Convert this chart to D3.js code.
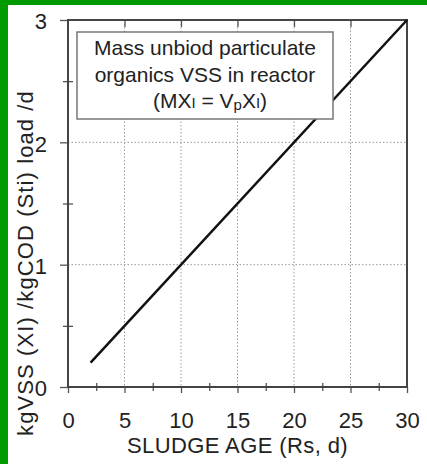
<!DOCTYPE html>
<html>
<head>
<meta charset="utf-8">
<style>
    body { margin: 0; background: #fff; }
    svg { display: block; font-family: 'Liberation Sans', Arial, sans-serif; }
    .grid line { stroke: #9a9a9a; stroke-width: 1; stroke-dasharray: 1.5,2; }
</style>
</head>
<body>
<svg width="427" height="464"></svg>
<script src="https://d3js.org/d3.v7.min.js"></script>
<script>
    // data
    let sludgeAge = [2, 30];
    let massXI = [0.2, 3.0];
    let xTicks = [0, 5, 10, 15, 20, 25, 30];
    let xMinor = [2.5, 7.5, 12.5, 17.5, 22.5, 27.5];
    let yTicks = [0, 1, 2, 3];
    let yMinor = [0.5, 1.5, 2.5];

    let svg = d3.select("svg");
    let plotLeft = 68, plotRight = 407, plotTop = 20, plotBottom = 387;

    // green frame of the slide
    svg.append("rect").attr("x", 0).attr("y", 0).attr("width", 427).attr("height", 5).style("fill", "#009a00");
    svg.append("rect").attr("x", 0).attr("y", 0).attr("width", 8).attr("height", 464).style("fill", "#009a00");

    let x = d3.scaleLinear().domain([0, 30]).range([plotLeft, plotRight]);
    let y = d3.scaleLinear().domain([0, 3]).range([plotBottom, plotTop]);

    // dotted grid
    let grid = svg.append("g").attr("class", "grid");
    grid.selectAll(".vg")
        .data(xTicks.filter(d => d > 0 && d < 30))
        .join("line")
        .attr("x1", d => x(d)).attr("x2", d => x(d))
        .attr("y1", plotTop).attr("y2", plotBottom);
    grid.selectAll(".hg")
        .data(yTicks.filter(d => d > 0 && d < 3))
        .join("line")
        .attr("x1", plotLeft).attr("x2", plotRight)
        .attr("y1", d => y(d)).attr("y2", d => y(d));

    // axes
    let xAxis = svg.append("g")
        .attr("transform", "translate(0," + plotBottom + ")")
        .call(d3.axisBottom(x).tickValues(xTicks).tickSize(6).tickFormat(d3.format("d")));
    svg.append("g")
        .attr("transform", "translate(0," + (plotBottom - 4) + ")")
        .call(d3.axisBottom(x).tickValues(xMinor).tickSize(8).tickFormat(""))
        .call(g => g.select(".domain").remove());
    svg.append("g")
        .attr("transform", "translate(0," + plotTop + ")")
        .call(d3.axisBottom(x).tickValues(xTicks.slice(1, 6)).tickSize(7).tickFormat(""))
        .call(g => g.select(".domain").remove());

    let yAxis = svg.append("g")
        .attr("transform", "translate(" + plotLeft + ",0)")
        .call(d3.axisLeft(y).tickValues(yTicks).tickSize(8).tickPadding(13).tickFormat(d3.format("d")));
    svg.append("g")
        .attr("transform", "translate(" + (plotLeft + 5) + ",0)")
        .call(d3.axisLeft(y).tickValues(yMinor).tickSize(10).tickFormat(""))
        .call(g => g.select(".domain").remove());

    svg.selectAll(".tick line").style("stroke", "#555").style("stroke-width", 1.3);
    svg.selectAll(".domain").remove();

    xAxis.selectAll("text")
        .style("font-size", "22px").style("fill", "#222")
        .attr("dy", "0.85em").attr("y", 22);
    yAxis.selectAll("text")
        .style("font-size", "22px").style("fill", "#222")
        .attr("dy", "0.4em");

    // plot frame
    svg.append("rect")
        .attr("x", plotLeft).attr("y", plotTop)
        .attr("width", plotRight - plotLeft).attr("height", plotBottom - plotTop)
        .style("fill", "none").style("stroke", "#444").style("stroke-width", 2);

    // the line
    let pts = sludgeAge.map((d, i) => [d, massXI[i]]);
    svg.append("path")
        .datum(pts)
        .attr("d", d3.line().x(d => x(d[0])).y(d => y(d[1])))
        .style("fill", "none").style("stroke", "#111").style("stroke-width", 2.5);

    // legend box
    svg.append("rect")
        .attr("x", 77).attr("y", 32).attr("width", 256).attr("height", 87)
        .style("fill", "#fff").style("stroke", "#777").style("stroke-width", 1.5);
    let lg = svg.append("text")
        .attr("text-anchor", "middle")
        .style("font-size", "21px").style("fill", "#222");
    lg.append("tspan").attr("x", 205).attr("y", 55).text("Mass unbiod particulate");
    lg.append("tspan").attr("x", 205).attr("y", 82).text("organics VSS in reactor");
    let l3 = svg.append("text")
        .attr("x", 210).attr("y", 108)
        .attr("text-anchor", "middle")
        .style("font-size", "21px").style("fill", "#222");
    l3.append("tspan").text("(MX");
    l3.append("tspan").style("font-size", "15px").text("I");
    l3.append("tspan").text(" = V");
    l3.append("tspan").style("font-size", "15px").attr("dy", 2).text("p");
    l3.append("tspan").attr("dy", -2).text("X");
    l3.append("tspan").style("font-size", "15px").text("I");
    l3.append("tspan").text(")");

    // axis titles
    svg.append("text")
        .attr("x", (plotLeft + plotRight) / 2).attr("y", 453)
        .attr("text-anchor", "middle")
        .style("font-size", "22px").style("letter-spacing", "0.4px").style("fill", "#222")
        .text("SLUDGE AGE (Rs, d)");
    svg.append("text")
        .attr("transform", "translate(33,263) rotate(-90)")
        .attr("text-anchor", "middle")
        .style("font-size", "22px").style("letter-spacing", "1.1px").style("fill", "#222")
        .text("kgVSS (XI) /kgCOD (Sti) load /d");
</script>
</body>
</html>
